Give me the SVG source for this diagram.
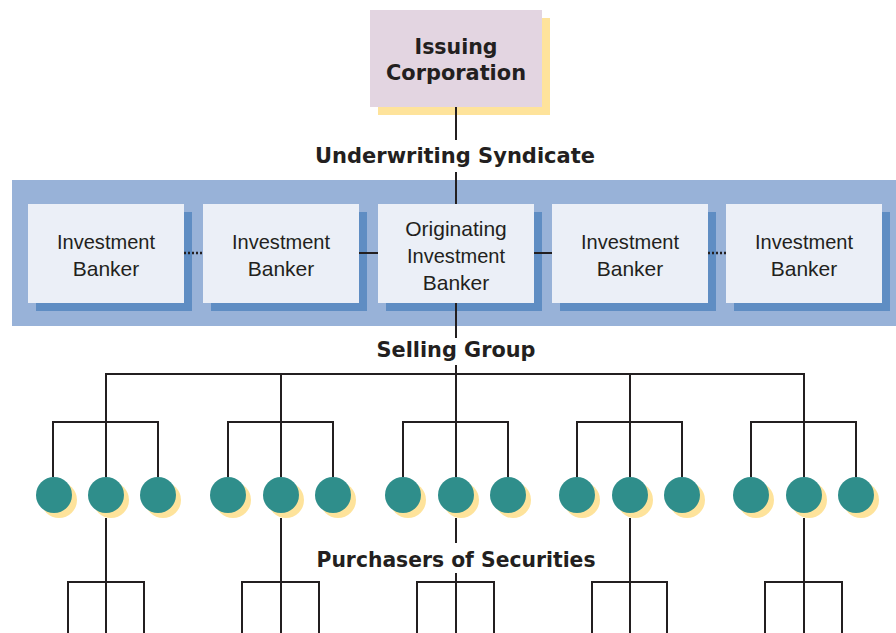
<svg xmlns="http://www.w3.org/2000/svg" width="896" height="633" viewBox="0 0 896 633">
<defs>
<style>
.ln{stroke:#231F20;stroke-width:2;fill:none}
.dot{stroke:#231F20;stroke-width:2.5;fill:none;stroke-dasharray:2 2}
.box{fill:#EBEFF7}
.bsh{fill:#5F8DC3}
.circ{fill:#2F8E8B}
.csh{fill:#FEE39B}
.lbl{font-family:"DejaVu Sans","Liberation Sans",sans-serif;font-weight:bold;font-size:20.5px;fill:#231F20;text-anchor:middle}
.txt{font-family:"Liberation Sans","DejaVu Sans",sans-serif;font-size:21px;fill:#231F20;text-anchor:middle}
</style>
</defs>
<rect width="896" height="633" fill="#FFFFFF"/>

<!-- Syndicate band -->
<rect id="syndicate-band" x="12" y="180" width="884" height="146" fill="#98B2D8"/>

<!-- Issuing Corporation -->
<g id="issuing">
  <rect x="378" y="18" width="172" height="97" fill="#FEE39B"/>
  <rect x="370" y="10" width="172" height="97" fill="#E3D5E1"/>
  <text class="lbl" x="456" y="54" textLength="83" lengthAdjust="spacingAndGlyphs">Issuing</text>
  <text class="lbl" x="456" y="80" textLength="140" lengthAdjust="spacingAndGlyphs">Corporation</text>
</g>

<text class="lbl" x="455" y="163" textLength="280" lengthAdjust="spacingAndGlyphs">Underwriting Syndicate</text>

<!-- Investment bankers -->
<g id="banker1">
  <rect class="bsh" x="36" y="212" width="156" height="99"/>
  <rect class="box" x="28" y="204" width="156" height="99"/>
  <text class="txt" x="106" y="249" textLength="98" lengthAdjust="spacingAndGlyphs">Investment</text>
  <text class="txt" x="106" y="276">Banker</text>
</g>
<g id="banker2">
  <rect class="bsh" x="211" y="212" width="156" height="99"/>
  <rect class="box" x="203" y="204" width="156" height="99"/>
  <text class="txt" x="281" y="249" textLength="98" lengthAdjust="spacingAndGlyphs">Investment</text>
  <text class="txt" x="281" y="276">Banker</text>
</g>
<g id="originating">
  <rect class="bsh" x="386" y="212" width="156" height="99"/>
  <rect class="box" x="378" y="204" width="156" height="99"/>
  <text class="txt" x="456" y="236">Originating</text>
  <text class="txt" x="456" y="263" textLength="98" lengthAdjust="spacingAndGlyphs">Investment</text>
  <text class="txt" x="456" y="290">Banker</text>
</g>
<g id="banker4">
  <rect class="bsh" x="560" y="212" width="156" height="99"/>
  <rect class="box" x="552" y="204" width="156" height="99"/>
  <text class="txt" x="630" y="249" textLength="98" lengthAdjust="spacingAndGlyphs">Investment</text>
  <text class="txt" x="630" y="276">Banker</text>
</g>
<g id="banker5">
  <rect class="bsh" x="734" y="212" width="156" height="99"/>
  <rect class="box" x="726" y="204" width="156" height="99"/>
  <text class="txt" x="804" y="249" textLength="98" lengthAdjust="spacingAndGlyphs">Investment</text>
  <text class="txt" x="804" y="276">Banker</text>
</g>

<text class="lbl" x="456" y="357" textLength="159" lengthAdjust="spacingAndGlyphs">Selling Group</text>

<!-- Connectors -->
<g id="connectors">
  <line class="ln" x1="456" y1="107" x2="456" y2="140"/>
  <line class="ln" x1="456" y1="172" x2="456" y2="204"/>
  <line class="dot" x1="184" y1="253" x2="203" y2="253"/>
  <line class="ln" x1="359" y1="253" x2="378" y2="253"/>
  <line class="ln" x1="534" y1="253" x2="552" y2="253"/>
  <line class="dot" x1="708" y1="253" x2="726" y2="253"/>
  <line class="ln" x1="456" y1="303" x2="456" y2="338"/>
  <line class="ln" x1="456" y1="365" x2="456" y2="477"/>
  <line class="ln" x1="105" y1="374" x2="805" y2="374"/>
  <path class="ln" d="M106 374V477M281 374V477M630 374V477M804 374V477"/>
  <path class="ln" d="M53 477V422H158V477M228 477V422H333V477M403 477V422H508V477M577 477V422H682V477M751 477V422H856V477"/>
  <path class="ln" d="M106 518V633M281 518V633M630 518V633M804 518V633M456 518V543M456 573V633"/>
  <path class="ln" d="M68 633V582H144V633M242 633V582H319V633M417 633V582H494V633M592 633V582H667V633M765 633V582H842V633"/>
</g>

<!-- Selling group members -->
<g id="dealer1a"><circle class="csh" cx="59" cy="500" r="18"/><circle class="circ" cx="54" cy="495" r="18"/></g>
<g id="dealer1b"><circle class="csh" cx="111" cy="500" r="18"/><circle class="circ" cx="106" cy="495" r="18"/></g>
<g id="dealer1c"><circle class="csh" cx="163" cy="500" r="18"/><circle class="circ" cx="158" cy="495" r="18"/></g>
<g id="dealer2a"><circle class="csh" cx="233" cy="500" r="18"/><circle class="circ" cx="228" cy="495" r="18"/></g>
<g id="dealer2b"><circle class="csh" cx="286" cy="500" r="18"/><circle class="circ" cx="281" cy="495" r="18"/></g>
<g id="dealer2c"><circle class="csh" cx="338" cy="500" r="18"/><circle class="circ" cx="333" cy="495" r="18"/></g>
<g id="dealer3a"><circle class="csh" cx="408" cy="500" r="18"/><circle class="circ" cx="403" cy="495" r="18"/></g>
<g id="dealer3b"><circle class="csh" cx="461" cy="500" r="18"/><circle class="circ" cx="456" cy="495" r="18"/></g>
<g id="dealer3c"><circle class="csh" cx="513" cy="500" r="18"/><circle class="circ" cx="508" cy="495" r="18"/></g>
<g id="dealer4a"><circle class="csh" cx="582" cy="500" r="18"/><circle class="circ" cx="577" cy="495" r="18"/></g>
<g id="dealer4b"><circle class="csh" cx="635" cy="500" r="18"/><circle class="circ" cx="630" cy="495" r="18"/></g>
<g id="dealer4c"><circle class="csh" cx="687" cy="500" r="18"/><circle class="circ" cx="682" cy="495" r="18"/></g>
<g id="dealer5a"><circle class="csh" cx="756" cy="500" r="18"/><circle class="circ" cx="751" cy="495" r="18"/></g>
<g id="dealer5b"><circle class="csh" cx="809" cy="500" r="18"/><circle class="circ" cx="804" cy="495" r="18"/></g>
<g id="dealer5c"><circle class="csh" cx="861" cy="500" r="18"/><circle class="circ" cx="856" cy="495" r="18"/></g>

<text class="lbl" x="456" y="567" textLength="279" lengthAdjust="spacingAndGlyphs">Purchasers of Securities</text>
</svg>
